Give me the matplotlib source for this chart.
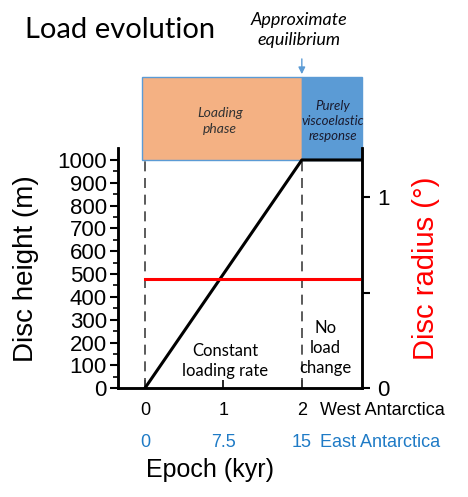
import matplotlib.pyplot as plt
from matplotlib.patches import Rectangle

# data
west_ticks = [0, 1, 2]
west_labels = ["0", "1", "2"]
east_labels = ["0", "7.5", "15"]
load_epoch = [0, 2, 2.764]
load_height = [0, 1000, 1000]
radius_epoch = [0, 2.764]
radius_deg = [0.57, 0.57]
phase_edges = [0, 2]

plt.rcParams['font.family'] = ['Liberation Sans', 'DejaVu Sans']
blue = "#1f7bc6"
soft = "Lato"

fig = plt.figure(figsize=(4.68, 4.97), dpi=100)
ax = fig.add_axes([0.252, 0.219, 0.521, 0.483])
ax2 = ax.twinx()

ax.plot(load_epoch, load_height, color="black", lw=2.2, zorder=4)
for x in phase_edges:
    ax.plot([x, x], [0, 1000], color="#404040", lw=1.2, ls=(0, (6, 4)), zorder=2)

ax2.plot(radius_epoch, radius_deg, color="red", lw=2.2)

ax.set_xlim(-0.344, 2.764)
ax.set_ylim(0, 1052)
ax2.set_ylim(0, 1.256)

ax.set_yticks(range(0, 1001, 100))
ax.set_yticks(range(0, 1001, 50), minor=True)
ax.tick_params(axis="y", labelsize=16, width=1.5, length=6, pad=2)
ax.tick_params(axis="y", which="minor", width=1.2, length=3.5)
ax.set_xticks(west_ticks)
ax.set_xticklabels(west_labels)
ax.tick_params(axis="x", direction="in", labelsize=13, width=1.2, length=6, pad=10)

ax2.set_yticks([0, 0.5, 1])
ax2.set_yticklabels(["0", "", "1"])
ax2.tick_params(axis="y", labelsize=16, width=1.5, length=6, pad=5)

for a in (ax, ax2):
    a.spines["top"].set_visible(False)
    for s in ("left", "right", "bottom"):
        a.spines[s].set_linewidth(1.8)

ax.set_ylabel("Disc height (m)", fontsize=20, labelpad=13)
ax2.set_ylabel("Disc radius (\u00b0)", fontsize=21, color="red", labelpad=16)

# second row of epoch labels (East Antarctica)
for x, lab in zip(west_ticks, east_labels):
    ax.annotate(lab, xy=(x, 0), xycoords=("data", "axes fraction"),
                xytext=(0, -54), textcoords="offset pixels",
                ha="center", va="center", fontsize=13, color=blue)
ax.annotate("West Antarctica", xy=(1, 0), xycoords="axes fraction",
            xytext=(-42, -22), textcoords="offset pixels",
            ha="left", va="center", fontsize=13)
ax.annotate("East Antarctica", xy=(1, 0), xycoords="axes fraction",
            xytext=(-42, -54), textcoords="offset pixels",
            ha="left", va="center", fontsize=13, color=blue)
fig.text(210 / 468, 1 - 470 / 497, "Epoch (kyr)", fontsize=18, ha="center", va="center")

# phase boxes above the axes
ax.add_patch(Rectangle((-0.04, 1000), 2.04, 364, facecolor="#F4B183",
                       edgecolor="#5B9BD5", lw=1.0, clip_on=False))
ax.add_patch(Rectangle((2, 1000), 0.764, 364, facecolor="#5B9BD5",
                       edgecolor="#5B9BD5", lw=1.0, clip_on=False))
ax.text(0.96, 1171, "Loading\nphase", ha="center", va="center", fontsize=10,
        style="italic", family=soft, color="#333333", linespacing=1.35)
ax.text(2.39, 1171, "Purely\nviscoelastic\nresponse", ha="center", va="center",
        fontsize=9.5, style="italic", family=soft, color="#1a1a2e", linespacing=1.3)
ax.annotate("", xy=(2, 1364), xytext=(2, 1455), xycoords="data",
            arrowprops=dict(arrowstyle="-|>", color="#5B9BD5", lw=1, mutation_scale=10),
            annotation_clip=False)
fig.text(299 / 468, 1 - 30 / 497, "Approximate\nequilibrium", ha="center", va="center",
         fontsize=13, style="italic", family=soft, linespacing=1.25)

ax.text(1.02, 118, "Constant\nloading rate", ha="center", va="center",
        fontsize=12, family=soft, linespacing=1.3)
ax.text(2.3, 175, "No\nload\nchange", ha="center", va="center",
        fontsize=12, family=soft, linespacing=1.3)

fig.text(25 / 468, 1 - 30 / 497, "Load evolution", fontsize=21, family=soft,
         va="center", ha="left")

fig.savefig("out.png", dpi=100)
